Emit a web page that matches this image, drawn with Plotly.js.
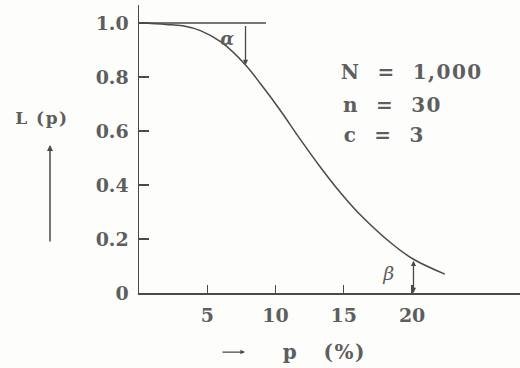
<!DOCTYPE html>
<html>
<head>
<meta charset="utf-8">
<script src="https://cdn.plot.ly/plotly-3.0.1.min.js"></script>
<style>
html,body{margin:0;padding:0;background:#fdfdfb;}
#chart{width:520px;height:368px;}
#chart .annotation-text{letter-spacing:1.5px;}
</style>
</head>
<body>
<div id="chart"></div>
<script>
// Operating characteristic curve values
const pPercent = [0, 2, 3.2, 4.5, 6, 7.8, 8.9, 10.3, 11.8, 13.3, 14.7, 16.2, 18.7, 20.1, 22.4];
const acceptProb = [1.0, 0.995, 0.99, 0.972, 0.93, 0.845, 0.775, 0.68, 0.57, 0.465, 0.375, 0.29, 0.175, 0.125, 0.07];

// horizontal reference line at L = 1.0
const refLineX = [0, 9.3];
const refLineY = [1.0, 1.0];

// alpha and beta markers
const alphaP = 7.8, alphaTop = 0.995, alphaBottom = 0.845;
const alphaLabelP = 6.55, alphaLabelL = 0.944;
const betaP = 20.1, betaTop = 0.125, betaBottom = 0.0;
const betaLabelP = 18.3, betaLabelL = 0.074;

// tick labels
const xTickVals = [5, 10, 15, 20];
const xTickText = ['5', '10', '15', '20'];
const yTickVals = [0, 0.2, 0.4, 0.6, 0.8, 1.0];
const yTickText = ['0', '0.2', '0.4', '0.6', '0.8', '1.0'];

// plan parameters
const planLines = ['N\u00a0\u00a0=\u00a0\u00a01,000', 'n\u00a0\u00a0=\u00a0\u00a030', 'c\u00a0\u00a0=\u00a0\u00a03'];

const ink = '#4a4a4a';
const textInk = '#5e5e5e';
const fontFam = 'DejaVu Serif, Liberation Serif, serif';

const traces = [
  {x: refLineX, y: refLineY, mode: 'lines', line: {color: ink, width: 1.5}, hoverinfo: 'skip', cliponaxis: false},
  {x: pPercent, y: acceptProb, mode: 'lines', line: {color: ink, width: 1.5, shape: 'spline', smoothing: 1.1}, hoverinfo: 'skip', cliponaxis: false}
];

const annotations = [
  {xref: 'x', yref: 'y', axref: 'x', ayref: 'y', x: alphaP, y: alphaBottom, ax: alphaP, ay: alphaTop,
   showarrow: true, arrowhead: 2, arrowsize: 0.8, arrowwidth: 1.3, arrowcolor: ink, text: ''},
  {xref: 'x', yref: 'y', text: '\u03b1', x: alphaLabelP, y: alphaLabelL, showarrow: false, xanchor: 'center', yanchor: 'middle',
   font: {family: fontFam, size: 18, color: textInk, style: 'italic', weight: 'bold'}},
  {xref: 'x', yref: 'y', axref: 'x', ayref: 'y', x: betaP, y: betaBottom, ax: betaP, ay: betaTop,
   showarrow: true, arrowhead: 2, startarrowhead: 2, arrowside: 'end+start', arrowsize: 0.8, arrowwidth: 1.3, arrowcolor: ink, text: ''},
  {xref: 'x', yref: 'y', text: '\u03b2', x: betaLabelP, y: betaLabelL, showarrow: false, xanchor: 'center', yanchor: 'middle',
   font: {family: fontFam, size: 19, color: textInk, style: 'italic'}},
  // y axis title and its arrow
  {xref: 'paper', yref: 'paper', text: 'L\u00a0(p)', x: -0.2546, y: 0.607, showarrow: false, xanchor: 'center', yanchor: 'middle',
   font: {family: fontFam, size: 17, color: textInk, weight: 'bold'}},
  {xref: 'paper', yref: 'paper', x: -0.2336, y: 0.514, ax: 0, ay: 98, text: '',
   showarrow: true, arrowhead: 2, arrowsize: 0.8, arrowwidth: 1.5, arrowcolor: ink},
  // x axis title and its arrow
  {xref: 'paper', yref: 'paper', text: 'p\u00a0\u00a0\u00a0(%)', x: 0.4856, y: -0.205, showarrow: false, xanchor: 'center', yanchor: 'middle',
   font: {family: fontFam, size: 20, color: textInk, weight: 'bold'}},
  {xref: 'paper', yref: 'paper', x: 0.2782, y: -0.205, ax: -24, ay: 0, text: '',
   showarrow: true, arrowhead: 2, arrowsize: 0.7, arrowwidth: 1.3, arrowcolor: ink}
];

const planY = [0.767, 0.653, 0.549];
planLines.forEach((t, i) => {
  annotations.push({xref: 'paper', yref: 'paper', text: t, x: 0.545, y: planY[i], xanchor: 'left', yanchor: 'middle', showarrow: false,
    font: {family: fontFam, size: 20, color: textInk, weight: 'bold'}});
});

const layout = {
  width: 520, height: 368,
  margin: {l: 139, r: 0, t: 5, b: 75},
  paper_bgcolor: '#fdfdfb', plot_bgcolor: '#fdfdfb',
  showlegend: false,
  font: {family: fontFam, size: 19, color: textInk},
  xaxis: {range: [0, 27.9], showgrid: false, zeroline: false, showline: true, linecolor: ink, linewidth: 1.5,
    ticks: 'inside', ticklen: 8, tickwidth: 1.3, tickcolor: ink, tickvals: xTickVals, ticktext: xTickText,
    tickfont: {family: fontFam, size: 19, color: textInk, weight: 'bold'},
    ticklabelstandoff: 5, fixedrange: true},
  yaxis: {range: [0, 1.067], showgrid: false, zeroline: false, showline: true, linecolor: ink, linewidth: 1.5,
    ticks: 'inside', ticklen: 10, tickwidth: 1.3, tickcolor: ink, tickvals: yTickVals, ticktext: yTickText,
    tickfont: {family: fontFam, size: 19, color: textInk, weight: 'bold'},
    ticklabelstandoff: 5, fixedrange: true},
  annotations: annotations
};

Plotly.newPlot('chart', traces, layout, {staticPlot: true, displayModeBar: false});
</script>
</body>
</html>
